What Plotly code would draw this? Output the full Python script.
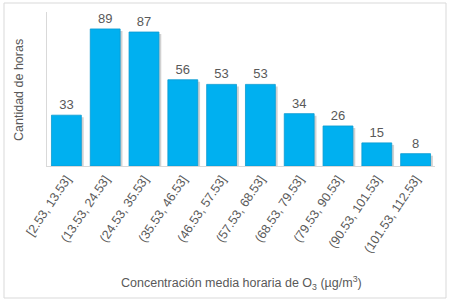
import plotly.graph_objects as go

categories = ["[2.53, 13.53]", "(13.53, 24.53]", "(24.53, 35.53]", "(35.53, 46.53]",
              "(46.53, 57.53]", "(57.53, 68.53]", "(68.53, 79.53]", "(79.53, 90.53]",
              "(90.53, 101.53]", "(101.53, 112.53]"]
values = [33, 89, 87, 56, 53, 53, 34, 26, 15, 8]

W, H = 450, 305
L, R, T, B = 47, 15, 12, 139
pw, ph = W - L - R, H - T - B
BW = 0.77

def px_x(x):
    return (x - L) / pw

def px_y(y):
    return (H - B - y) / ph

fig = go.Figure()
# soft drop shadow behind each bar
fig.add_trace(go.Bar(
    x=categories, y=values, base=-1.3, width=BW, offset=-BW / 2 + 0.06,
    marker=dict(color="rgba(90,90,90,0.28)", line=dict(width=0)),
    hoverinfo="skip",
))
fig.add_trace(go.Bar(
    x=categories, y=values, width=BW, offset=-BW / 2,
    marker=dict(color="#00B0F0", line=dict(color="#0A9AD0", width=0.8)),
    text=[str(v) for v in values], textposition="outside",
    textfont=dict(color="#595959", size=13, family="Liberation Sans"),
    cliponaxis=False,
))

fig.update_layout(
    width=W, height=H,
    margin=dict(l=L, r=R, t=T, b=B, autoexpand=False),
    paper_bgcolor="white", plot_bgcolor="white",
    barmode="overlay",
    showlegend=False,
    font=dict(family="Liberation Sans", color="#595959"),
    xaxis=dict(
        tickangle=-56, tickfont=dict(size=12.5, color="#595959"),
        showline=True, linecolor="#D9D9D9", linewidth=1,
        ticks="", showgrid=False, automargin=False,
    ),
    yaxis=dict(
        range=[0, 100], showticklabels=False, showgrid=False, zeroline=False,
        showline=True, linecolor="#D9D9D9", linewidth=1, ticks="", automargin=False,
    ),
    annotations=[
        dict(text="Concentración media horaria de O<sub>3</sub> (µg/m<sup>3</sup>)",
             xref="paper", yref="paper", x=px_x(241), y=px_y(283),
             xanchor="center", yanchor="middle", showarrow=False,
             font=dict(size=12.5, color="#595959")),
        dict(text="Cantidad de horas", textangle=-90,
             xref="paper", yref="paper", x=px_x(19), y=px_y(90),
             xanchor="center", yanchor="middle", showarrow=False,
             font=dict(size=12.5, color="#595959")),
    ],
    shapes=[dict(type="rect", xref="paper", yref="paper",
                 x0=px_x(4), x1=px_x(446), y0=px_y(298), y1=px_y(3),
                 line=dict(color="#D9D9D9", width=1), fillcolor="rgba(0,0,0,0)",
                 layer="below")],
)

fig.write_html("out.html", config={"displayModeBar": False},
               post_script="document.body.style.margin='0';document.body.style.overflow='hidden';")
